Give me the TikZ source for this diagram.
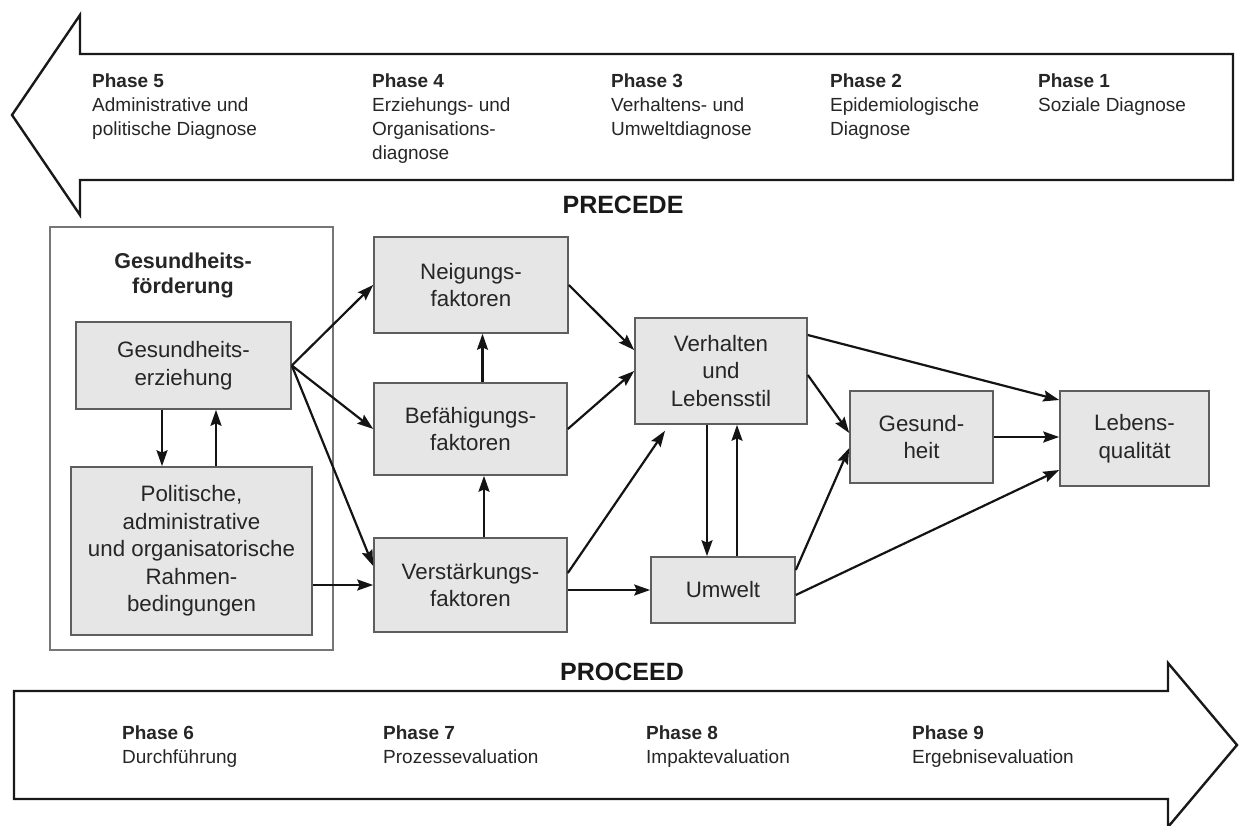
\documentclass[tikz,border=0pt]{standalone}
\usepackage{fontspec}
\setmainfont{Liberation Sans}
\usetikzlibrary{arrows.meta}
\definecolor{boxfill}{HTML}{E6E6E6}
\definecolor{boxline}{HTML}{5E5E5E}
\definecolor{txt}{HTML}{262626}
\begin{document}
\begin{tikzpicture}[x=1pt,y=-1pt,
  bigarrow/.style={draw=black!90, line width=2.4pt, line join=miter, fill=white},
  box/.style={draw=boxline, fill=boxfill, line width=1.6pt, align=center, inner sep=0pt,
    text=txt, font=\fontsize{22.3}{27.5}\selectfont},
  frame/.style={draw=boxline!85, line width=1.8pt, inner sep=0pt},
  phase/.style={anchor=north west, align=left, inner sep=0pt, text=txt,
    font=\fontsize{19}{24}\selectfont},
  title/.style={inner sep=0pt, text=black!90, font=\bfseries\fontsize{25}{30}\selectfont},
  arr/.style={-{Stealth[length=16pt,width=11pt,inset=2.5pt]}, line width=2.2pt, draw=black!92}
]
\useasboundingbox[fill=white] (0,0) rectangle (1239,825);

% PRECEDE arrow (pointing left)
\draw[bigarrow] (12,115) -- (80,15) -- (80,54) -- (1233,54) -- (1233,180) -- (80,180) -- (80,215) -- cycle;
% PROCEED arrow (pointing right)
\draw[bigarrow] (14,691) -- (1168,691) -- (1168,663) -- (1237,745) -- (1168,827) -- (1168,799) -- (14,799) -- cycle;

\node[title] (precede) at (623,205) {PRECEDE};
\node[title] (proceed) at (622,672) {PROCEED};

% phases top
\node[phase] (p5) at (92,73.5) {\textbf{Phase 5}\\Administrative und\\politische Diagnose};
\node[phase] (p4) at (372,73.5) {\textbf{Phase 4}\\Erziehungs- und\\Organisations-\\diagnose};
\node[phase] (p3) at (611,73.5) {\textbf{Phase 3}\\Verhaltens- und\\Umweltdiagnose};
\node[phase] (p2) at (830,73.5) {\textbf{Phase 2}\\Epidemiologische\\Diagnose};
\node[phase] (p1) at (1038,73.5) {\textbf{Phase 1}\\Soziale Diagnose};

% phases bottom
\node[phase] (p6) at (122,725.8) {\textbf{Phase 6}\\Durchführung};
\node[phase] (p7) at (383,725.8) {\textbf{Phase 7}\\Prozessevaluation};
\node[phase] (p8) at (646,725.8) {\textbf{Phase 8}\\Impaktevaluation};
\node[phase] (p9) at (912,725.8) {\textbf{Phase 9}\\Ergebnisevaluation};

% health promotion frame
\node[frame, minimum width=283pt, minimum height=423pt] (gf) at (191.5,438.5) {};
\node[align=center, inner sep=0pt, text=txt, font=\bfseries\fontsize{21.5}{25}\selectfont] (gft) at (183,275.5) {Gesundheits-\\förderung};

\node[box, minimum width=215pt, minimum height=87pt] (ge) at (183.5,365.5) {Gesundheits-\\erziehung};
\node[box, minimum width=241pt, minimum height=168pt] (pol) at (191.5,551) {Politische,\\administrative\\und organisatorische\\Rahmen-\\bedingungen};

\node[box, minimum width=194pt, minimum height=96pt] (nf) at (471,285) {Neigungs-\\faktoren};
\node[box, minimum width=193pt, minimum height=92pt] (bf) at (470.5,429) {Befähigungs-\\faktoren};
\node[box, minimum width=193pt, minimum height=94pt] (vf) at (470.5,585) {Verstärkungs-\\faktoren};

\node[box, minimum width=172pt, minimum height=106pt] (vl) at (721,371) {Verhalten\\und\\Lebensstil};
\node[box, minimum width=144pt, minimum height=66pt] (uw) at (723,590) {Umwelt};
\node[box, minimum width=143pt, minimum height=92pt] (gh) at (921.5,437) {Gesund-\\heit};
\node[box, minimum width=149pt, minimum height=95pt] (lq) at (1134.5,438.5) {Lebens-\\qualität};

\coordinate (vlin) at ([xshift=-56pt,yshift=-6pt]vl.south);

% connectors
\draw[arr] ([xshift=-21.5pt]ge.south) -- ([xshift=-21.5pt]ge.south |- pol.north);
\draw[arr] ([xshift=32.5pt]ge.south |- pol.north) -- ([xshift=32.5pt]ge.south);
\draw[arr] (ge.east) -- (nf.west);
\draw[arr] (ge.east) -- (bf.west);
\draw[arr] (ge.east) -- ([yshift=19pt]vf.west);
\draw[arr] (pol.east |- vf.west) -- (vf.west);

\draw[arr] ([xshift=12pt]bf.north) -- ([xshift=12pt]bf.north |- nf.south);
\draw[arr] ([xshift=13.5pt]vf.north) -- ([xshift=13.5pt]vf.north |- bf.south);

\draw[arr] (nf.east) -- ([yshift=21pt]vl.west);
\draw[arr] (bf.east) -- (vl.west);
\draw[arr] ([yshift=12pt]vf.east) -- (vlin);
\draw[arr] (vf.east |- uw.west) -- (uw.west);

\draw[arr] ([xshift=-14pt]vl.south) -- ([xshift=-14pt]vl.south |- uw.north);
\draw[arr] ([xshift=16pt]vl.south |- uw.north) -- ([xshift=16pt]vl.south);

\draw[arr] ([yshift=36pt]vl.east) -- ([yshift=38.5pt]lq.west);
\draw[arr] ([yshift=-4pt]vl.east) -- ([yshift=4pt]gh.west);
\draw[arr] (gh.east) -- (gh.east -| lq.west);
\draw[arr] ([yshift=20pt]uw.east) -- ([yshift=-11pt]gh.west);
\draw[arr] ([yshift=-5pt]uw.east) -- ([yshift=-31.5pt]lq.west);
\end{tikzpicture}
\end{document}
